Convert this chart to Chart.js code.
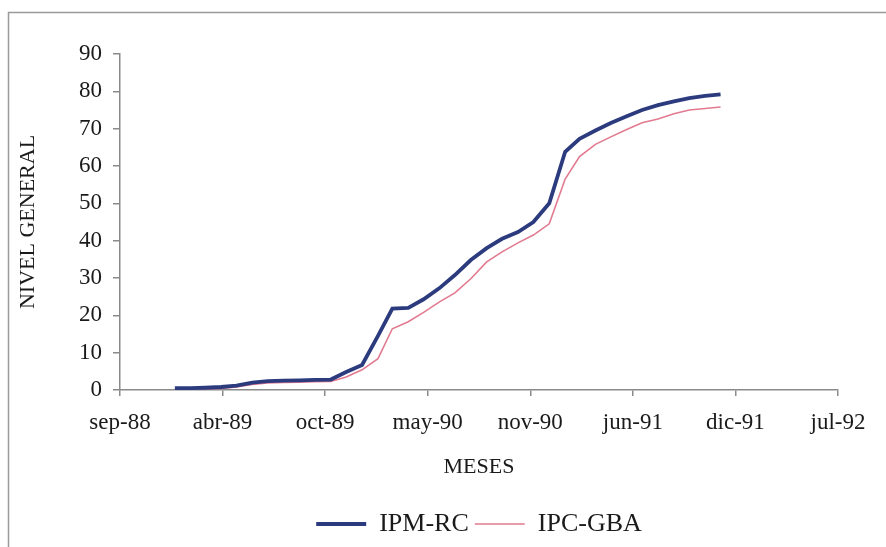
<!DOCTYPE html>
<html>
<head>
<meta charset="utf-8">
<script src="https://cdn.jsdelivr.net/npm/chart.js@4.4.1/dist/chart.umd.min.js"></script>
<style>
  html, body { margin: 0; padding: 0; background: #fff; overflow: hidden; }
  canvas { display: block; }
</style>
</head>
<body>
<canvas id="nivelChart" width="886" height="547"></canvas>
<script>
//
// Nivel general de precios, IPM-RC vs IPC-GBA (monthly)
//

// Months of the series (year-month)
const meses = [
  '1989-01', '1989-02', '1989-03', '1989-04', '1989-05', '1989-06',
  '1989-07', '1989-08', '1989-09', '1989-10', '1989-11', '1989-12',
  '1990-01', '1990-02', '1990-03', '1990-04', '1990-05', '1990-06',
  '1990-07', '1990-08', '1990-09', '1990-10', '1990-11', '1990-12',
  '1991-01', '1991-02', '1991-03', '1991-04', '1991-05', '1991-06',
  '1991-07', '1991-08', '1991-09', '1991-10', '1991-11', '1991-12'
];

const ipmRC = [
  0.5, 0.5, 0.6, 0.8, 1.2, 2.0, 2.4, 2.5, 2.6, 2.7, 2.8, 4.8,
  6.7, 14.5, 21.8, 22.0, 24.3, 27.3, 30.8, 34.8, 38.0, 40.5, 42.3, 45.0,
  50.0, 63.8, 67.3, 69.5, 71.5, 73.3, 75.0, 76.3, 77.3, 78.2, 78.8, 79.2
];

const ipcGBA = [
  0.2, 0.2, 0.3, 0.4, 0.8, 1.5, 1.9, 2.0, 2.1, 2.2, 2.3, 3.5,
  5.4, 8.4, 16.4, 18.3, 20.8, 23.6, 26.0, 29.8, 34.3, 37.0, 39.4, 41.5,
  44.5, 56.5, 62.5, 65.8, 67.8, 69.8, 71.6, 72.6, 74.0, 75.0, 75.4, 75.8
];

// Date axis: one tick every 200 days starting mid Sept 1988
const tickLabels = ['sep-88', 'abr-89', 'oct-89', 'may-90', 'nov-90', 'jun-91', 'dic-91', 'jul-92'];
const AXIS_START = Date.UTC(1988, 8, 16);
const TICK_DAYS = 200;

function dayOffset(ym) {
  const [y, m] = ym.split('-').map(Number);
  return (Date.UTC(y, m - 1, 1) - AXIS_START) / 86400000;
}

function toPoints(values) {
  return values.map((v, i) => ({ x: dayOffset(meses[i]), y: v }));
}

// Thin frame around the whole chart
const framePlugin = {
  id: 'frame',
  beforeDraw(chart) {
    const ctx = chart.ctx;
    ctx.save();
    ctx.fillStyle = '#fff';
    ctx.fillRect(0, 0, chart.width, chart.height);
    ctx.strokeStyle = '#9a9a9a';
    ctx.lineWidth = 1.5;
    ctx.strokeRect(8.5, 12.5, 1000, 700);
    ctx.restore();
  }
};

const AXIS_COLOR = '#8a8a8a';
const TEXT_COLOR = '#1a1a1a';
const SERIF = "'Liberation Serif', 'Times New Roman', serif";

new Chart(document.getElementById('nivelChart'), {
  type: 'line',
  data: {
    datasets: [{
      label: 'IPM-RC',
      data: toPoints(ipmRC),
      borderColor: '#2c3b7e',
      backgroundColor: '#2c3b7e',
      borderWidth: 3.8,
      pointRadius: 0,
      tension: 0
    }, {
      label: 'IPC-GBA',
      data: toPoints(ipcGBA),
      borderColor: '#e27a90',
      backgroundColor: '#e27a90',
      borderWidth: 1.6,
      pointRadius: 0,
      tension: 0
    }]
  },
  options: {
    responsive: false,
    animation: false,
    layout: { padding: { left: 0, right: 48, top: 54, bottom: 0 } },
    plugins: {
      tooltip: { enabled: false },
      legend: {
        position: 'bottom',
        fullSize: false,
        labels: {
          usePointStyle: true,
          pointStyle: 'line',
          pointStyleWidth: 50,
          padding: 6,
          color: TEXT_COLOR,
          font: { family: SERIF, size: 26 }
        }
      }
    },
    scales: {
      x: {
        type: 'linear',
        min: 0,
        max: TICK_DAYS * (tickLabels.length - 1),
        afterFit(scale) { scale.height = 115; },
        border: { color: AXIS_COLOR, width: 1.5 },
        grid: { drawOnChartArea: false, color: AXIS_COLOR, lineWidth: 1.5, tickLength: 6 },
        ticks: {
          stepSize: TICK_DAYS,
          padding: 13,
          maxRotation: 0,
          color: TEXT_COLOR,
          font: { family: SERIF, size: 23 },
          callback: (v) => tickLabels[Math.round(v / TICK_DAYS)]
        },
        title: {
          display: true,
          text: 'MESES',
          color: TEXT_COLOR,
          font: { family: SERIF, size: 22 },
          padding: { top: 0, bottom: 25 }
        }
      },
      y: {
        min: 0,
        max: 90,
        afterFit(scale) { scale.width = 120; },
        border: { color: AXIS_COLOR, width: 1.5 },
        grid: { drawOnChartArea: false, color: AXIS_COLOR, lineWidth: 1.5, tickLength: 7 },
        ticks: {
          stepSize: 10,
          padding: 11,
          color: TEXT_COLOR,
          font: { family: SERIF, size: 23 }
        },
        title: {
          display: true,
          text: 'NIVEL GENERAL',
          color: TEXT_COLOR,
          font: { family: SERIF, size: 22 },
          padding: { top: 15, bottom: 0 }
        }
      }
    }
  },
  plugins: [framePlugin]
});
</script>
</body>
</html>
